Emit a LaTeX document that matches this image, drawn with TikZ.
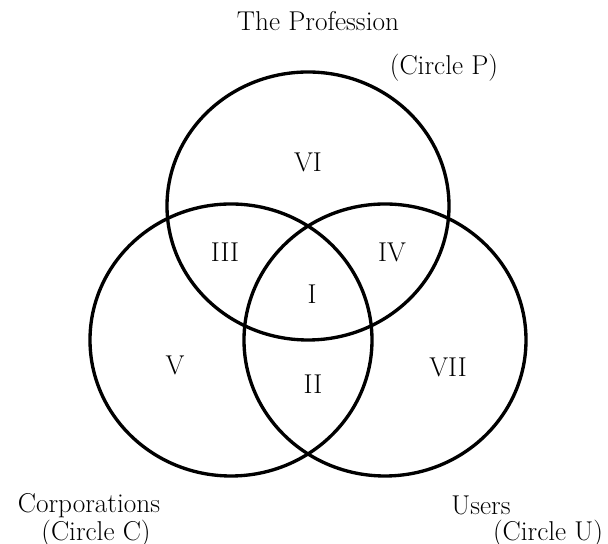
\documentclass[tikz,border=0pt]{standalone}
\begin{document}
\begin{tikzpicture}[x=0.2mm,y=-0.2mm,
  venn/.style={line width=1.9pt},
  lbl/.style={font=\fontsize{15.5}{18}\selectfont,inner sep=0pt},
  txt/.style={lbl,anchor=base}]
\useasboundingbox (0,0) rectangle (608,544);
% the three circles
\draw[venn] (308,206) ellipse [x radius=141, y radius=134];
\draw[venn] (231,340) ellipse [x radius=141, y radius=136];
\draw[venn] (385,340) ellipse [x radius=141, y radius=136];
% regions
\node[lbl] (r1) at (312,294) {I};
\node[lbl] (r2) at (313,384) {II};
\node[lbl] (r3) at (225,252) {III};
\node[lbl] (r4) at (392,252) {IV};
\node[lbl] (r5) at (175,365) {V};
\node[lbl] (r6) at (308,162) {VI};
\node[lbl] (r7) at (448,367) {VII};
% circle names
\node[txt] (prof) at (318,31) {The Profession};
\node[txt] (circp) at (444,75) {(Circle P)};
\node[txt] (corp) at (89,513) {Corporations};
\node[txt] (circc) at (96,541) {(Circle C)};
\node[txt] (users) at (481,515) {Users};
\node[txt] (circu) at (548,541) {(Circle U)};
\end{tikzpicture}
\end{document}
